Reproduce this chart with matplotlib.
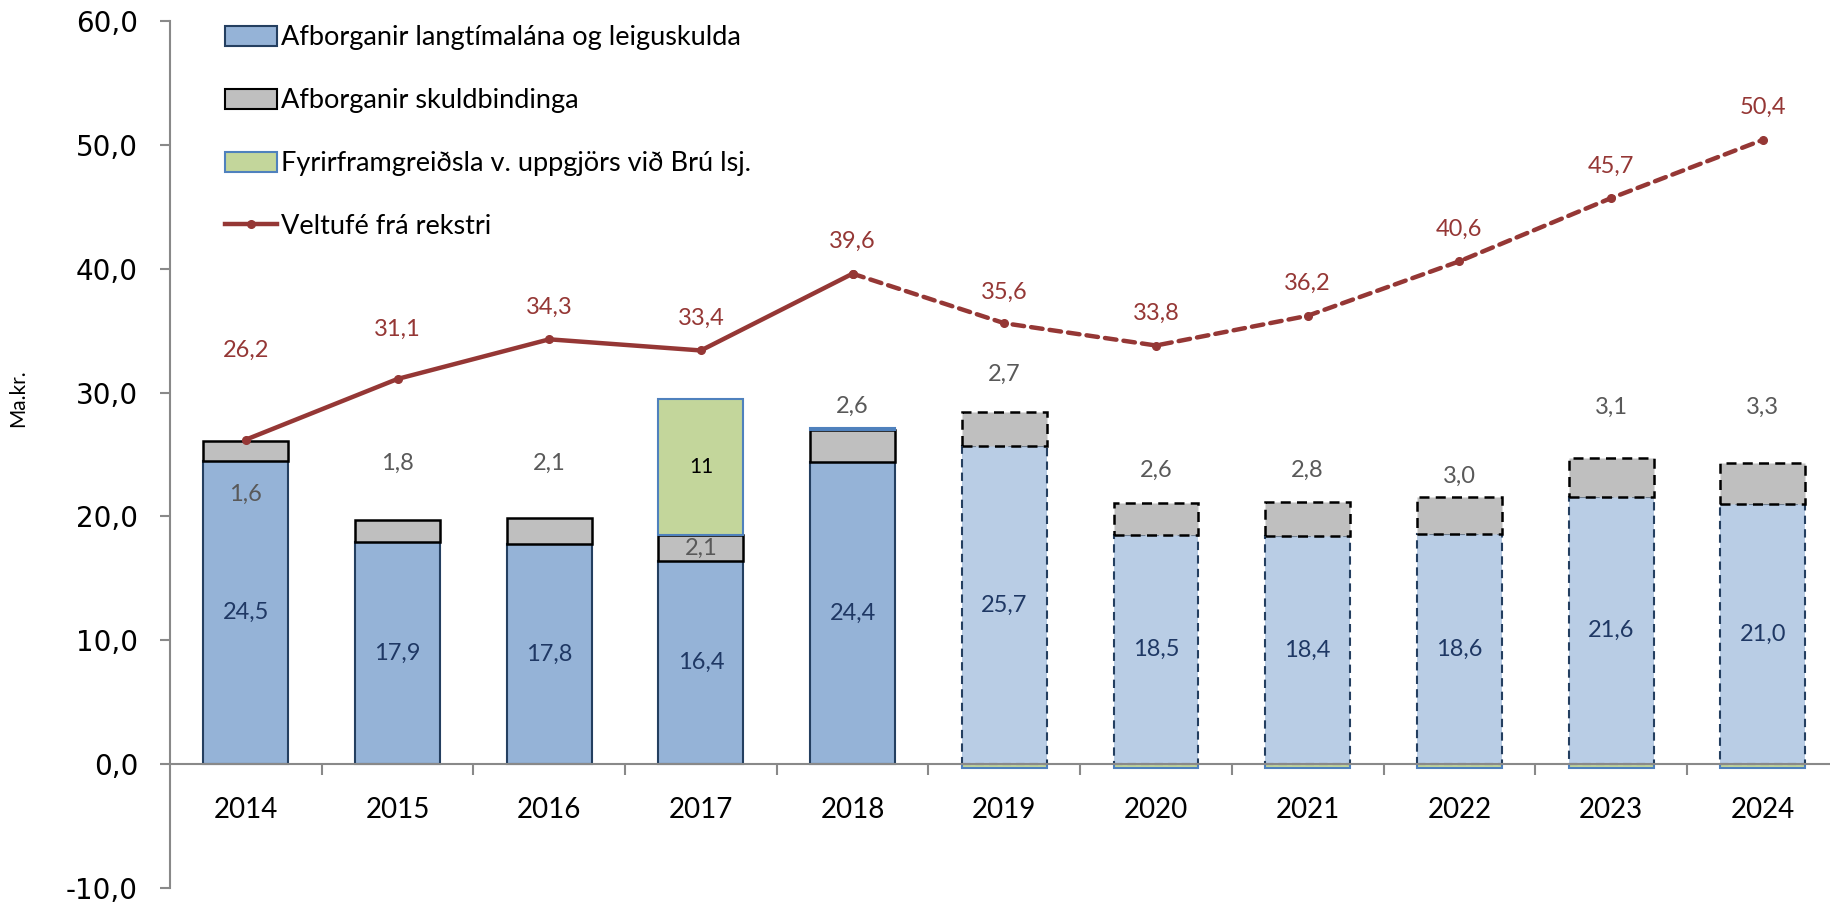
import matplotlib.pyplot as plt
from matplotlib.patches import Patch
from matplotlib.lines import Line2D
import numpy as np

years = ['2014', '2015', '2016', '2017', '2018', '2019', '2020', '2021', '2022', '2023', '2024']
afb_lan = [24.5, 17.9, 17.8, 16.4, 24.4, 25.7, 18.5, 18.4, 18.6, 21.6, 21.0]
afb_skuld = [1.6, 1.8, 2.1, 2.1, 2.6, 2.7, 2.6, 2.8, 3.0, 3.1, 3.3]
fyrirfram = [0, 0, 0, 11, 0.1, -0.3, -0.3, -0.3, -0.3, -0.3, -0.3]
veltufe = [26.2, 31.1, 34.3, 33.4, 39.6, 35.6, 33.8, 36.2, 40.6, 45.7, 50.4]
n_actual = 5  # 2014-2018 are actuals, rest is forecast

# label offsets (data units) - the original chart has them hand placed
skuld_lbl_off = [-4.3, 4.6, 4.4, None, 1.9, 3.1, 2.6, 2.5, 1.6, 4.1, 4.5]
velt_lbl_off = [7.2, 4.0, 2.6, 2.6, 2.6, 2.5, 2.6, 2.6, 2.6, 2.6, 2.6]

def fmt(v):
    return '{:.1f}'.format(v).replace('.', ',')

plt.rcParams['font.family'] = ['Lato', 'DejaVu Sans']

fig = plt.figure(figsize=(18.3, 9.06), dpi=100)
ax = fig.add_axes([0.0929, 0.0199, 0.9118, 0.9569])

x = np.arange(len(years))
w = 0.56
blue = '#95B3D7'
blue_fc = '#B9CDE5'
navy = '#1F3864'
gray = '#BFBFBF'
green = '#C3D69B'
red = '#953735'

for i in range(len(years)):
    fc = blue if i < n_actual else blue_fc
    ls = '-' if i < n_actual else (0, (4, 2.5))
    ax.bar(x[i], afb_lan[i], w, color=fc, edgecolor='#243F60', linewidth=1.5, linestyle=ls, zorder=2)
    ax.bar(x[i], afb_skuld[i], w, bottom=afb_lan[i], color=gray, edgecolor='black', linewidth=1.8, linestyle=ls, zorder=2)
    if fyrirfram[i] > 0:
        ax.bar(x[i], fyrirfram[i], w, bottom=afb_lan[i] + afb_skuld[i], color=green, edgecolor='#4F81BD', linewidth=1.5, zorder=2)
    elif fyrirfram[i] < 0:
        ax.bar(x[i], fyrirfram[i], w, color=green, edgecolor='#4F81BD', linewidth=1.5, zorder=1)

    ax.text(x[i], afb_lan[i] / 2, fmt(afb_lan[i]), ha='center', va='center', fontsize=17, color=navy, zorder=4)
    top = afb_lan[i] + afb_skuld[i]
    if skuld_lbl_off[i] is None:
        ly = afb_lan[i] + afb_skuld[i] / 2
    else:
        ly = top + skuld_lbl_off[i]
    ax.text(x[i], ly, fmt(afb_skuld[i]), ha='center', va='center', fontsize=17, color='#595959', zorder=4)
    if fyrirfram[i] >= 1:
        ax.text(x[i], top + fyrirfram[i] / 2, '{:g}'.format(fyrirfram[i]), ha='center', va='center',
                fontsize=15, color='black', zorder=4)

# line: solid for actuals, dashed for forecast
ax.plot(x[:n_actual], veltufe[:n_actual], color=red, linewidth=3.2, marker='o', markersize=5.5, zorder=3)
ax.plot(x[n_actual - 1:], veltufe[n_actual - 1:], color=red, linewidth=3.2, linestyle=(0, (2.6, 1.6)),
        dash_capstyle='round', marker='o', markersize=5.5, zorder=3)
for i, v in enumerate(veltufe):
    ax.text(x[i], v + velt_lbl_off[i], fmt(v), ha='center', va='center', fontsize=17, color=red, zorder=4)

ax.set_xlim(-0.5, len(years) - 0.5)
ax.set_ylim(-10, 60)
ax.set_yticks(np.arange(-10, 61, 10))
ax.set_yticklabels([fmt(v) for v in np.arange(-10, 61, 10)], family='DejaVu Sans')
ax.set_xticks(x)
ax.set_xticklabels(years)
ax.set_xticks(np.arange(0.5, len(years) - 1, 1), minor=True)
ax.tick_params(axis='x', which='major', length=0, pad=24, labelsize=20)
ax.tick_params(axis='x', which='minor', length=8, width=1.5, color='#898989')
ax.tick_params(axis='y', length=7, width=1.5, color='#898989', pad=16, labelsize=20)

for s in ['top', 'right']:
    ax.spines[s].set_visible(False)
ax.spines['left'].set_color('#898989')
ax.spines['left'].set_linewidth(1.5)
ax.spines['bottom'].set_position(('data', 0))
ax.spines['bottom'].set_color('#898989')
ax.spines['bottom'].set_linewidth(1.5)

fig.text(0.0098, 0.56, 'Ma.kr.', rotation=90, ha='center', va='center', fontsize=15)

handles = [
    Patch(facecolor=blue, edgecolor='#243F60', linewidth=1.5),
    Patch(facecolor=gray, edgecolor='black', linewidth=1.5),
    Patch(facecolor=green, edgecolor='#4F81BD', linewidth=1.5),
    Line2D([], [], color=red, linewidth=3.2, marker='o', markersize=5.5),
]
labels = ['Afborganir langtímalána og leiguskulda', 'Afborganir skuldbindinga',
          'Fyrirframgreiðsla v. uppgjörs við Brú lsj.', 'Veltufé frá rekstri']
ax.legend(handles, labels, loc='upper left', bbox_to_anchor=(0.123, 0.972), bbox_transform=fig.transFigure,
          frameon=False, fontsize=19.5, handlelength=1.9, handleheight=0.75, handletextpad=0.15,
          labelspacing=1.4, borderaxespad=0, borderpad=0)

fig.savefig('out.png', dpi=100)
